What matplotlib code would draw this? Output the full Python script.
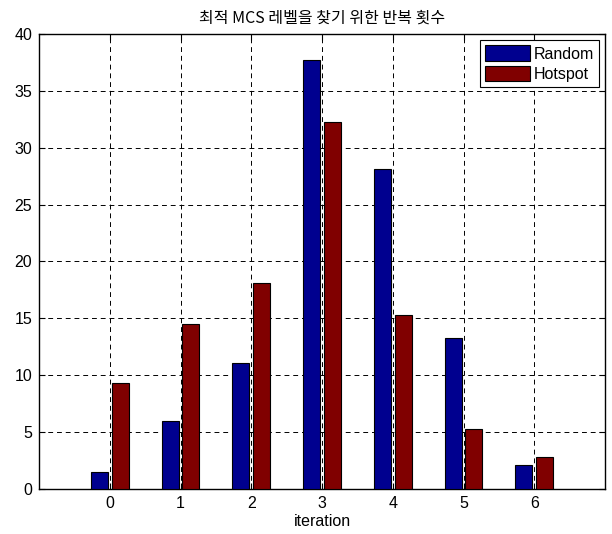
import matplotlib
matplotlib.use("Agg")
import matplotlib.pyplot as plt
import numpy as np

latin = ['Liberation Sans Narrow', 'Liberation Sans', 'DejaVu Sans']
plt.rcParams['font.family'] = latin

iterations = [0, 1, 2, 3, 4, 5, 6]
random_vals = [1.5, 6.0, 11.1, 37.7, 28.1, 13.3, 2.1]
hotspot_vals = [9.3, 14.5, 18.1, 32.3, 15.3, 5.25, 2.8]
series_names = ["Random", "Hotspot"]
title = "최적 MCS 레벨을 찾기 위한 반복 횟수"
xlabel = "iteration"

fig = plt.figure(figsize=(6.12, 5.34), dpi=100)
ax = fig.add_axes([0.0637, 0.0843, 0.925, 0.852])

x = np.array(iterations)
w = 0.24
off = 0.147
ax.bar(x - off, random_vals, w, color="#00008F", edgecolor="black", linewidth=0.8, label=series_names[0], zorder=3)
ax.bar(x + off, hotspot_vals, w, color="#800000", edgecolor="black", linewidth=0.8, label=series_names[1], zorder=3)

ax.set_xlim(-1, 7)
ax.set_ylim(0, 40)
ax.set_xticks(iterations)
ax.set_yticks(np.arange(0, 41, 5))
ax.grid(True, linestyle=(0, (5, 4)), color="black", linewidth=0.7)
ax.set_axisbelow(True)
ax.tick_params(direction="in", length=4, labelsize=11.5, top=True, right=True, pad=5)
for s in ax.spines.values():
    s.set_linewidth(1.0)

ax.set_title(title, fontsize=11.5, pad=8, family=['Noto Sans CJK KR', 'DejaVu Sans'])
ax.set_xlabel(xlabel, fontsize=11.5, labelpad=2)

leg = ax.legend(loc="upper right", fontsize=11.5, fancybox=False, edgecolor="black",
                framealpha=1, borderpad=0.3, handlelength=2.8, handleheight=1.15,
                handletextpad=0.25, labelspacing=0.25, borderaxespad=0.4)
leg.get_frame().set_linewidth(0.8)

fig.savefig("out.png", dpi=100)
